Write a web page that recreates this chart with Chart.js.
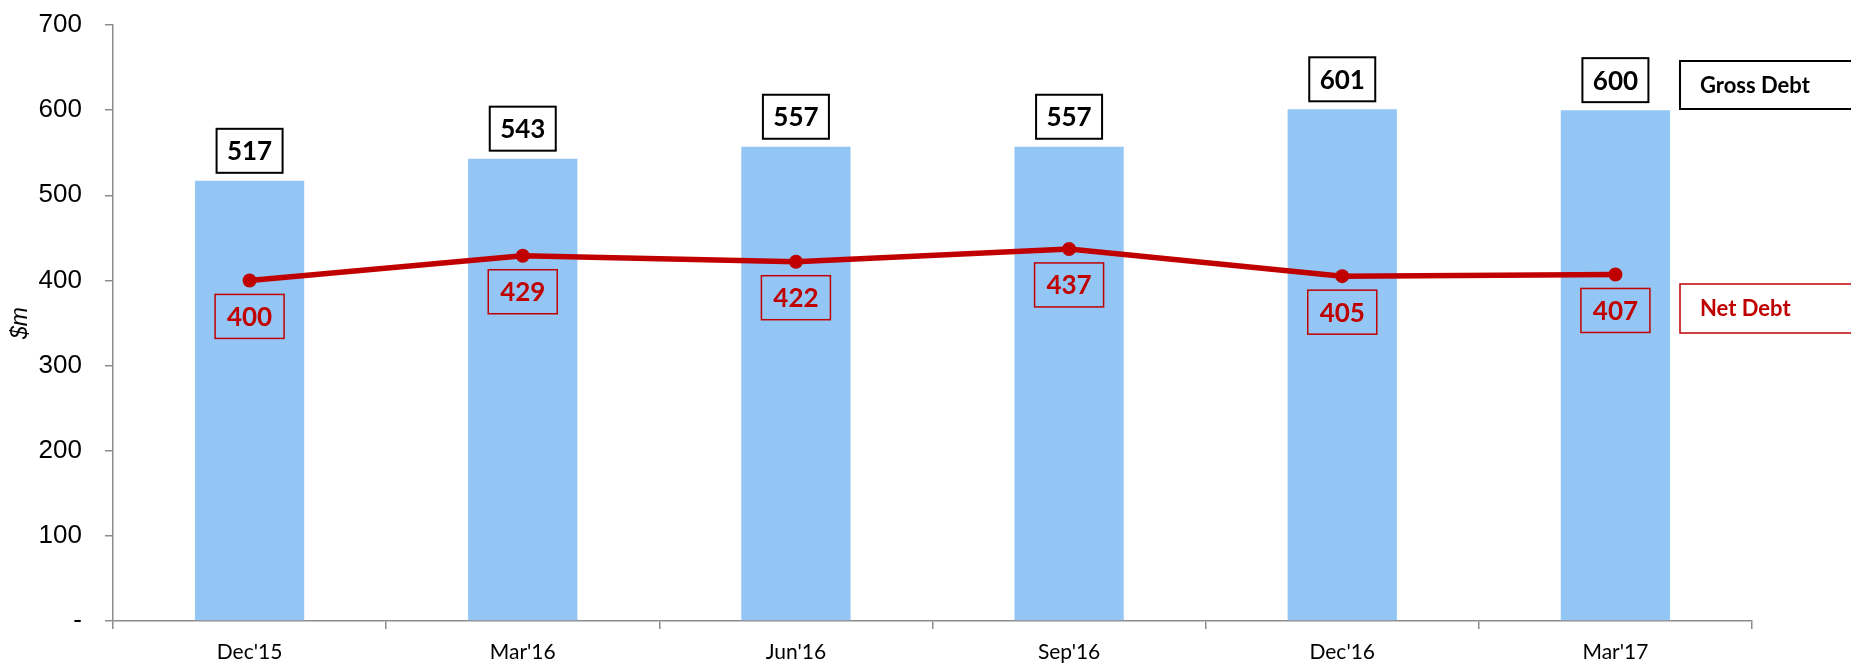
<!DOCTYPE html>
<html>
<head>
<meta charset="utf-8">
<script src="https://cdn.jsdelivr.net/npm/chart.js@4"></script>
<style>
    html, body { margin: 0; padding: 0; background: #fff; }
    #wrap { width: 1851px; height: 667px; }
</style>
</head>
<body>
<div id="wrap"><canvas id="debt-chart"></canvas></div>
<script>
const categories = ["Dec'15", "Mar'16", "Jun'16", "Sep'16", "Dec'16", "Mar'17"];
const grossDebt = [517, 543, 557, 557, 601, 600];
const netDebt = [400, 429, 422, 437, 405, 407];
const yTicks = [0, 100, 200, 300, 400, 500, 600, 700];

const RED = '#C00000';
const BLUE = '#93C6F5';
const AXIS_GREY = '#8c8c8c';
const LABEL_FONT = 'bold 26px Lato, "Open Sans", sans-serif';

// boxed value labels over bars / under points, plus the boxed legend on the right
const boxLabels = {
    id: 'boxLabels',
    afterDatasetsDraw(chart) {
        const ctx = chart.ctx;
        ctx.save();
        ctx.font = LABEL_FONT;
        ctx.textAlign = 'center';
        ctx.textBaseline = 'middle';

        // dataset 1 = bars (gross), dataset 0 = line (net)
        chart.getDatasetMeta(1).data.forEach((bar, i) => {
            const w = 66, h = 44;
            const x = bar.x - w / 2, y = bar.y - 8 - h;
            ctx.fillStyle = '#fff';
            ctx.fillRect(x, y, w, h);
            ctx.strokeStyle = '#000';
            ctx.lineWidth = 2;
            ctx.strokeRect(x, y, w, h);
            ctx.fillStyle = '#000';
            ctx.fillText(grossDebt[i], bar.x, y + h / 2 + 1);
        });

        chart.getDatasetMeta(0).data.forEach((pt, i) => {
            const w = 69, h = 44;
            const x = pt.x - w / 2, y = pt.y + 14;
            ctx.strokeStyle = RED;
            ctx.lineWidth = 1.5;
            ctx.strokeRect(x, y, w, h);
            ctx.fillStyle = RED;
            ctx.fillText(netDebt[i], pt.x, y + h / 2 + 1);
        });

        // legend boxes
        ctx.textAlign = 'left';
        ctx.font = 'bold 22px Lato, "Open Sans", sans-serif';
        ctx.fillStyle = '#fff';
        ctx.fillRect(1680, 61, 190, 48);
        ctx.strokeStyle = '#000';
        ctx.lineWidth = 2;
        ctx.strokeRect(1680, 61, 190, 48);
        ctx.fillStyle = '#000';
        ctx.fillText('Gross Debt', 1700, 86);

        ctx.strokeStyle = RED;
        ctx.lineWidth = 1.5;
        ctx.strokeRect(1680, 284, 190, 49);
        ctx.fillStyle = RED;
        ctx.fillText('Net Debt', 1700, 309);
        ctx.restore();
    }
};

new Chart(document.getElementById('debt-chart'), {
    data: {
        labels: categories,
        datasets: [
            {
                type: 'line',
                label: 'Net Debt',
                data: netDebt,
                borderColor: RED,
                backgroundColor: RED,
                borderWidth: 5.5,
                pointRadius: 7,
                pointBackgroundColor: RED,
                pointBorderWidth: 0,
                tension: 0,
                order: 0
            },
            {
                type: 'bar',
                label: 'Gross Debt',
                data: grossDebt,
                backgroundColor: BLUE,
                barPercentage: 0.4,
                categoryPercentage: 1,
                order: 1
            }
        ]
    },
    options: {
        responsive: true,
        maintainAspectRatio: false,
        animation: false,
        layout: { padding: { top: 25, right: 99, left: 0, bottom: 0 } },
        plugins: {
            legend: { display: false },
            tooltip: { enabled: false }
        },
        scales: {
            x: {
                offset: true,
                afterFit: s => {
                    s.height = 46;
                    s.paddingLeft = 0;
                    s.paddingRight = 0;
                },
                grid: {
                    offset: true,
                    drawOnChartArea: false,
                    drawTicks: true,
                    tickLength: 8,
                    color: AXIS_GREY,
                    lineWidth: 1.5
                },
                border: { color: AXIS_GREY, width: 1.5 },
                ticks: {
                    color: '#000',
                    padding: 11,
                    font: { family: 'Lato, "Open Sans", sans-serif', size: 21 }
                }
            },
            y: {
                min: 0,
                max: 700,
                afterFit: s => {
                    s.width = 113;
                    s.paddingTop = 0;
                    s.paddingBottom = 0;
                },
                afterBuildTicks: s => { s.ticks = yTicks.map(v => ({ value: v })); },
                grid: {
                    drawOnChartArea: false,
                    drawTicks: true,
                    tickLength: 8,
                    color: AXIS_GREY,
                    lineWidth: 1.5
                },
                border: { color: AXIS_GREY, width: 1.5 },
                title: {
                    display: true,
                    text: '$m',
                    color: '#000',
                    padding: { top: 7, bottom: 0 },
                    font: { family: '"Liberation Sans", Arial, sans-serif', size: 23, style: 'italic' }
                },
                ticks: {
                    color: '#000',
                    padding: 23,
                    callback: v => v === 0 ? '-' : v,
                    font: { family: '"Liberation Sans", Arial, sans-serif', size: 26 }
                }
            }
        }
    },
    plugins: [boxLabels]
});
</script>
</body>
</html>
